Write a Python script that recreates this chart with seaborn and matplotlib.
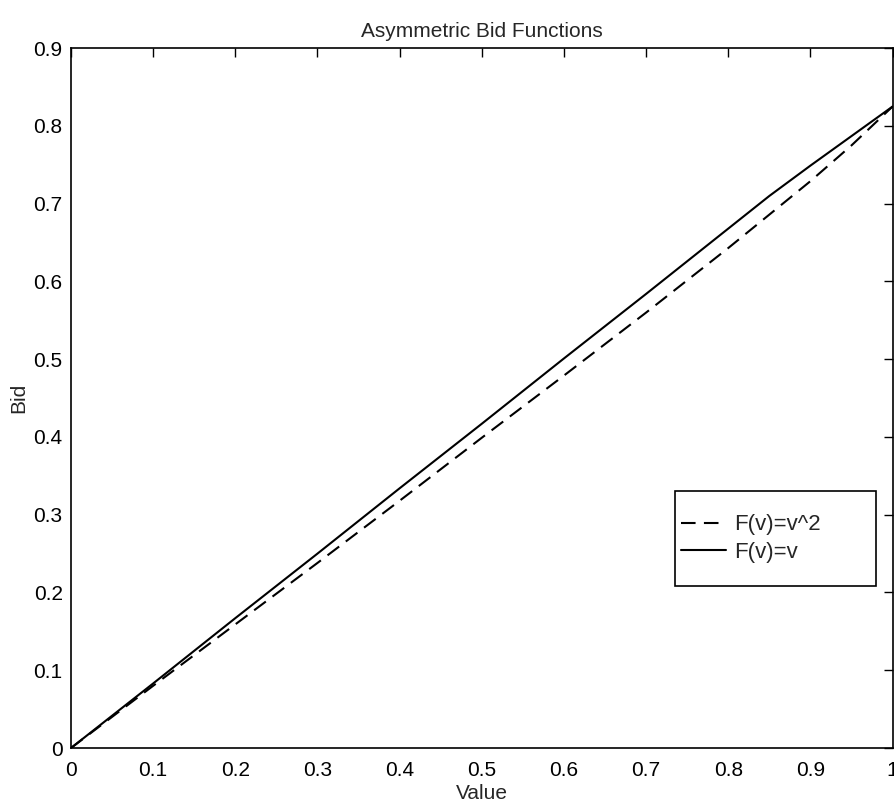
import numpy as np
import pandas as pd
import matplotlib
matplotlib.use("Agg")
import matplotlib.pyplot as plt
from matplotlib.patches import Rectangle
import seaborn as sns

# values
value = [0.0, 0.1, 0.2, 0.3, 0.4, 0.5, 0.6, 0.7, 0.8, 0.85, 0.9, 0.95, 1.0]
bid_square = [0.0, 0.080, 0.159, 0.238, 0.318, 0.399, 0.479, 0.560, 0.643, 0.686, 0.729, 0.775, 0.825]
bid_linear = [0.0, 0.083, 0.167, 0.250, 0.334, 0.417, 0.501, 0.584, 0.668, 0.710, 0.749, 0.787, 0.825]
x_ticks = [0, 0.1, 0.2, 0.3, 0.4, 0.5, 0.6, 0.7, 0.8, 0.9, 1]
x_tick_labels = ["0", "0.1", "0.2", "0.3", "0.4", "0.5", "0.6", "0.7", "0.8", "0.9", "1"]
y_ticks = [0, 0.1, 0.2, 0.3, 0.4, 0.5, 0.6, 0.7, 0.8, 0.9]
y_tick_labels = ["0", "0.1", "0.2", "0.3", "0.4", "0.5", "0.6", "0.7", "0.8", "0.9"]

df = pd.DataFrame({
    "Value": value + value,
    "Bid": bid_square + bid_linear,
    "series": ["F(v)=v^2"] * len(value) + ["F(v)=v"] * len(value),
})

sns.set_theme(style="white")
plt.rcParams["font.family"] = ["Liberation Sans", "DejaVu Sans"]

fig = plt.figure(figsize=(8.94, 8.09), dpi=100)
ax = fig.add_axes([0.0794, 0.0754, 0.919, 0.865])

sns.lineplot(data=df, x="Value", y="Bid", style="series",
             dashes={"F(v)=v^2": (7, 4), "F(v)=v": ""},
             color="black", linewidth=1.5, ax=ax)

ax.set_xlim(0, 1)
ax.set_ylim(0, 0.9)
ax.set_xticks(x_ticks)
ax.set_xticklabels(x_tick_labels)
ax.set_yticks(y_ticks)
ax.set_yticklabels(y_tick_labels)
ax.tick_params(direction="in", length=6.5, width=1, colors="black",
               labelsize=15, top=True, right=True)
ax.tick_params(axis="x", pad=9)
ax.tick_params(axis="y", pad=6)
for s in ax.spines.values():
    s.set_color("black")
    s.set_linewidth(1.2)

ax.set_xlabel("Value", fontsize=15, labelpad=3)
ax.set_ylabel("Bid", fontsize=15, labelpad=4)
ax.set_title("Asymmetric Bid Functions", fontsize=15, pad=8)

# legend box drawn separately so the padding can differ per side
ax.add_patch(Rectangle((0.735, 0.231), 0.245, 0.136, transform=ax.transAxes,
                       facecolor="white", edgecolor="black", linewidth=1.2,
                       zorder=4))
leg = ax.legend(loc="center left", bbox_to_anchor=(0.72, 0.299), fontsize=16,
                frameon=False, handlelength=2.0, borderpad=0.35,
                labelspacing=0.3, handletextpad=0.35)
leg.set_zorder(5)

fig.savefig("out.png", dpi=100)
